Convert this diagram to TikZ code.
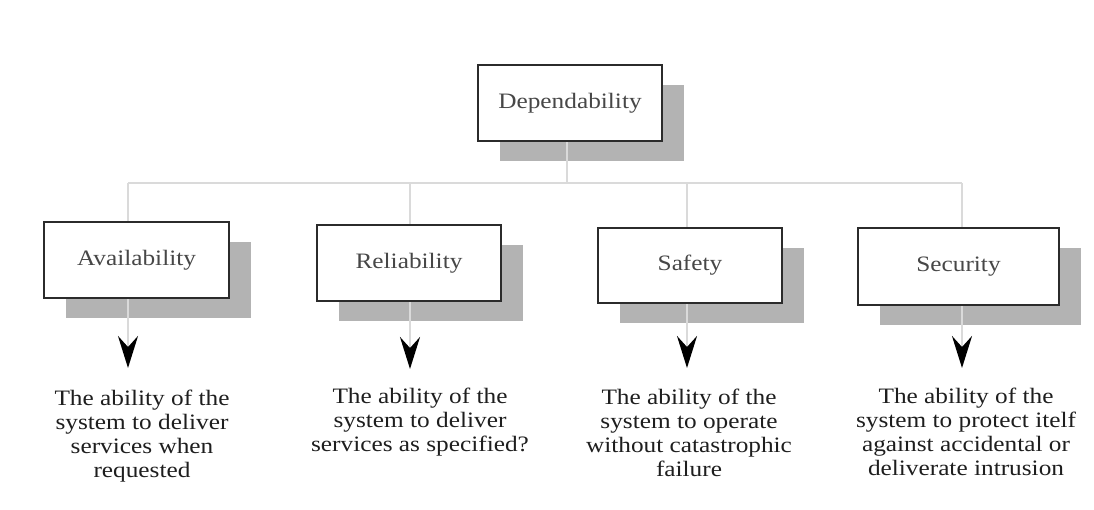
\documentclass[tikz,border=0pt]{standalone}
\usepackage{fontspec}
\setmainfont{Liberation Serif}
\newfontfamily\boxfont[FakeStretch=1.15]{Liberation Serif}
\usetikzlibrary{arrows.meta,shadows,calc}
\definecolor{shadowgray}{HTML}{B3B3B3}
\definecolor{conngray}{HTML}{DADADA}
\definecolor{framegray}{HTML}{2B2B2B}
\definecolor{labelgray}{HTML}{474747}
\definecolor{descgray}{HTML}{1E1E1E}
\begin{document}
\begin{tikzpicture}[x=1pt,y=-1pt,
  box/.style={draw=framegray, line width=2.6pt, fill=white, minimum height=76pt,
    inner sep=0pt, text=labelgray, font=\boxfont\fontsize{22}{26}\selectfont,
    general shadow={shadow xshift=22pt, shadow yshift=-20pt, fill=shadowgray}},
  desc/.style={anchor=north, align=center, inner sep=0pt, text=descgray,
    font=\boxfont\fontsize{22}{23.8}\selectfont},
  conn/.style={draw=conngray, line width=2.8pt},
  arr/.style={draw=conngray, line width=2.8pt,
    -{Stealth[length=32pt,width=20pt,inset=11pt,color=black]}}]
\path[use as bounding box, fill=white] (0,0) rectangle (1094,510);

% boxes
\node[box, minimum width=184pt] (dep) at (570,103) {Dependability};
\node[box, minimum width=185pt] (avail) at (136.5,260) {Availability};
\node[box, minimum width=184pt] (rel) at (409,263) {Reliability};
\node[box, minimum width=184pt, minimum height=75pt] (safe) at (690,265.5) {Safety};
\node[box, minimum width=201pt, minimum height=77pt] (sec) at (958.5,266.5) {Security};

% bus
\coordinate (busL) at (128,183);
\coordinate (busR) at (962,183);
\draw[conn] ([xshift=-3pt]dep.south) -- ([xshift=-3pt]dep.south |- busL);
\draw[conn] (busL) -- (busR);
\draw[conn] ([xshift=-8.5pt]avail.north) -- ([xshift=-8.5pt]avail.north |- busL);
\draw[conn] ([xshift=1pt]rel.north) -- ([xshift=1pt]rel.north |- busL);
\draw[conn] ([xshift=-3pt]safe.north) -- ([xshift=-3pt]safe.north |- busL);
\draw[conn] ([xshift=3.5pt]sec.north) -- ([xshift=3.5pt]sec.north |- busL);

% description texts
\node[desc] (davail) at (142,390) {The ability of the\\system to deliver\\services when\\requested};
\node[desc] (drel) at (420,388) {The ability of the\\system to deliver\\services as specified?};
\node[desc] (dsafe) at (689,389) {The ability of the\\system to operate\\without catastrophic\\failure};
\node[desc] (dsec) at (966,388) {The ability of the\\system to protect itelf\\against accidental or\\deliverate intrusion};

% arrow tips
\coordinate (tA) at (128,368);
\coordinate (tR) at (410,369);
\coordinate (tS) at (687,368);
\coordinate (tSec) at (962,368);
\draw[arr] ([xshift=-8.5pt]avail.south) -- (tA);
\draw[arr] ([xshift=1pt]rel.south) -- (tR);
\draw[arr] ([xshift=-3pt]safe.south) -- (tS);
\draw[arr] ([xshift=3.5pt]sec.south) -- (tSec);
\end{tikzpicture}
\end{document}
